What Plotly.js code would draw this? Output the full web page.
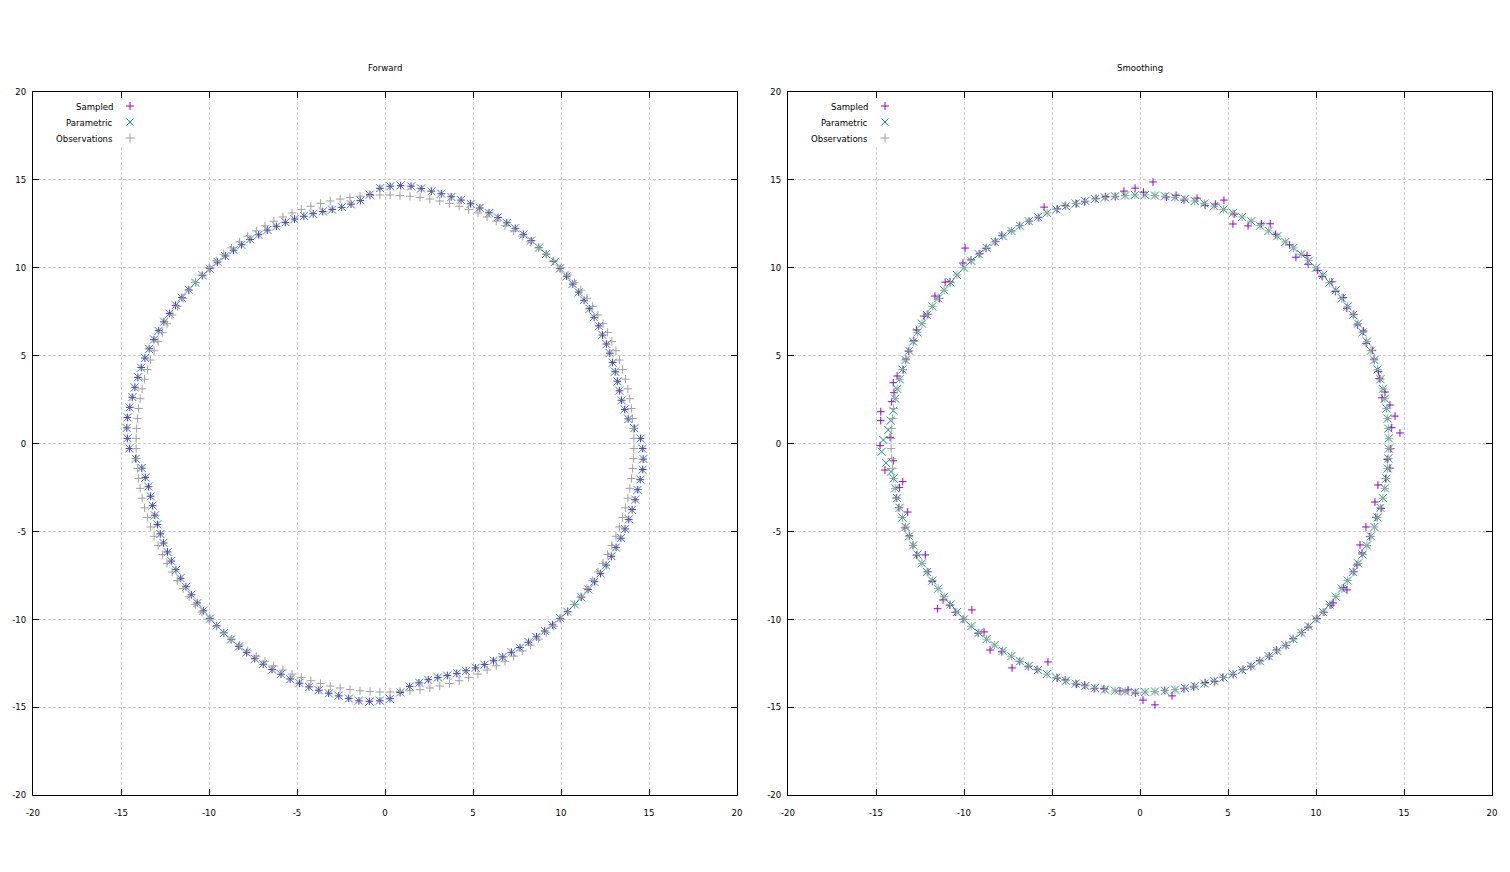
<!DOCTYPE html>
<html>
<head>
<meta charset="utf-8">
<script src="https://cdn.plot.ly/plotly-3.0.1.min.js"></script>
<style>html,body{margin:0;padding:0;background:#fff;}#chart{width:1510px;height:872px;}</style>
</head>
<body>
<div id="chart"></div>
<script>
// ---------------- data ----------------
const panelTitles = ['Forward', 'Smoothing'];
const seriesNames = ['Sampled', 'Parametric', 'Observations'];
const tickVals = [-20, -15, -10, -5, 0, 5, 10, 15, 20];
const tickText = ['-20', '-15', '-10', '-5', '0', '5', '10', '15', '20'];

// Observations (shared by both panels)
const obsX = [0.29,0.85,1.42,1.99,2.55,3.11,3.66,4.21,4.75,5.28,5.80,6.32,6.82,7.31,7.80,8.26,8.72,9.16,9.59,10.00,10.40,10.77,11.13,11.47,11.80,12.10,12.39,12.65,12.89,13.12,13.32,13.50,13.66,13.80,13.91,14.00,14.07,14.11,14.14,
  14.14,14.11,14.07,14.00,13.91,13.80,13.66,13.50,13.32,13.12,12.89,12.65,12.39,12.10,11.80,11.47,11.13,10.77,10.40,10.00,9.59,9.16,8.72,8.26,7.80,7.31,6.82,6.32,5.80,5.28,4.75,4.21,3.66,3.11,2.55,1.99,1.42,0.85,0.29,
  -0.29,-0.85,-1.42,-1.99,-2.55,-3.11,-3.66,-4.21,-4.75,-5.28,-5.80,-6.32,-6.82,-7.31,-7.80,-8.26,-8.72,-9.16,-9.59,-10.00,-10.40,-10.77,-11.13,-11.47,-11.80,-12.10,-12.39,-12.65,-12.89,-13.12,-13.32,-13.50,-13.66,-13.80,-13.91,-14.00,-14.07,-14.11,-14.14,
  -14.14,-14.11,-14.07,-14.00,-13.91,-13.80,-13.66,-13.50,-13.32,-13.12,-12.89,-12.65,-12.39,-12.10,-11.80,-11.47,-11.13,-10.77,-10.40,-10.00,-9.59,-9.16,-8.72,-8.26,-7.80,-7.31,-6.82,-6.32,-5.80,-5.28,-4.75,-4.21,-3.66,-3.11,-2.55,-1.99,-1.42,-0.85,-0.29];
const obsY = [14.14,14.11,14.07,14.00,13.91,13.80,13.66,13.50,13.32,13.12,12.89,12.65,12.39,12.10,11.80,11.47,11.13,10.77,10.40,10.00,9.59,9.16,8.72,8.26,7.80,7.31,6.82,6.32,5.80,5.28,4.75,4.21,3.66,3.11,2.55,1.99,1.42,0.85,0.29,
  -0.29,-0.85,-1.42,-1.99,-2.55,-3.11,-3.66,-4.21,-4.75,-5.28,-5.80,-6.32,-6.82,-7.31,-7.80,-8.26,-8.72,-9.16,-9.59,-10.00,-10.40,-10.77,-11.13,-11.47,-11.80,-12.10,-12.39,-12.65,-12.89,-13.12,-13.32,-13.50,-13.66,-13.80,-13.91,-14.00,-14.07,-14.11,-14.14,
  -14.14,-14.11,-14.07,-14.00,-13.91,-13.80,-13.66,-13.50,-13.32,-13.12,-12.89,-12.65,-12.39,-12.10,-11.80,-11.47,-11.13,-10.77,-10.40,-10.00,-9.59,-9.16,-8.72,-8.26,-7.80,-7.31,-6.82,-6.32,-5.80,-5.28,-4.75,-4.21,-3.66,-3.11,-2.55,-1.99,-1.42,-0.85,-0.29,
  0.29,0.85,1.42,1.99,2.55,3.11,3.66,4.21,4.75,5.28,5.80,6.32,6.82,7.31,7.80,8.26,8.72,9.16,9.59,10.00,10.40,10.77,11.13,11.47,11.80,12.10,12.39,12.65,12.89,13.12,13.32,13.50,13.66,13.80,13.91,14.00,14.07,14.11,14.14];

// Forward panel: sampled
const fwdSampledX = [0.29,0.89,1.48,2.06,2.63,3.20,3.76,4.32,4.86,5.39,5.91,6.42,6.92,7.40,7.86,8.31,8.74,9.16,9.56,9.95,10.32,10.67,11.00,11.31,11.61,11.88,12.14,12.36,12.58,12.77,12.93,13.08,13.20,13.32,13.44,13.62,13.82,14.17,14.52,
  14.64,14.67,14.64,14.50,14.36,14.21,14.04,13.85,13.64,13.40,13.13,12.86,12.56,12.24,11.90,11.54,11.16,10.77,10.37,9.95,9.52,9.07,8.61,8.15,7.67,7.18,6.69,6.17,5.66,5.14,4.61,4.08,3.54,3.00,2.46,1.93,1.40,0.86,0.29,
  -0.29,-0.89,-1.48,-2.06,-2.63,-3.20,-3.76,-4.32,-4.86,-5.39,-5.91,-6.42,-6.92,-7.40,-7.86,-8.31,-8.74,-9.16,-9.56,-9.95,-10.32,-10.67,-11.00,-11.31,-11.61,-11.88,-12.14,-12.36,-12.58,-12.77,-12.93,-13.08,-13.20,-13.32,-13.44,-13.62,-13.82,-14.17,-14.52,
  -14.64,-14.67,-14.64,-14.50,-14.36,-14.21,-14.04,-13.85,-13.64,-13.40,-13.13,-12.86,-12.56,-12.24,-11.90,-11.54,-11.16,-10.77,-10.37,-9.95,-9.52,-9.07,-8.61,-8.15,-7.67,-7.18,-6.69,-6.17,-5.66,-5.14,-4.61,-4.08,-3.54,-3.00,-2.46,-1.93,-1.40,-0.86,-0.29];
const fwdSampledY = [14.64,14.67,14.64,14.50,14.36,14.21,14.04,13.85,13.64,13.40,13.13,12.86,12.56,12.24,11.90,11.54,11.16,10.77,10.37,9.95,9.52,9.07,8.61,8.15,7.67,7.18,6.69,6.17,5.66,5.14,4.61,4.08,3.54,3.00,2.46,1.93,1.40,0.86,0.29,
  -0.29,-0.89,-1.48,-2.06,-2.63,-3.20,-3.76,-4.32,-4.86,-5.39,-5.91,-6.42,-6.92,-7.40,-7.86,-8.31,-8.74,-9.16,-9.56,-9.95,-10.32,-10.67,-11.00,-11.31,-11.61,-11.88,-12.14,-12.36,-12.58,-12.77,-12.93,-13.08,-13.20,-13.32,-13.44,-13.62,-13.82,-14.17,-14.52,
  -14.64,-14.67,-14.64,-14.50,-14.36,-14.21,-14.04,-13.85,-13.64,-13.40,-13.13,-12.86,-12.56,-12.24,-11.90,-11.54,-11.16,-10.77,-10.37,-9.95,-9.52,-9.07,-8.61,-8.15,-7.67,-7.18,-6.69,-6.17,-5.66,-5.14,-4.61,-4.08,-3.54,-3.00,-2.46,-1.93,-1.40,-0.86,-0.29,
  0.29,0.89,1.48,2.06,2.63,3.20,3.76,4.32,4.86,5.39,5.91,6.42,6.92,7.40,7.86,8.31,8.74,9.16,9.56,9.95,10.32,10.67,11.00,11.31,11.61,11.88,12.14,12.36,12.58,12.77,12.93,13.08,13.20,13.32,13.44,13.62,13.82,14.17,14.52];

// Forward panel: parametric
const fwdParamX = [0.30,0.88,1.49,2.05,2.64,3.19,3.77,4.31,4.87,5.38,5.92,6.41,6.93,7.39,7.87,8.30,8.75,9.15,9.66,9.94,10.33,10.66,11.01,11.30,11.62,11.87,12.15,12.35,12.59,12.76,12.94,13.07,13.21,13.31,13.45,13.61,13.83,14.16,14.53,
  14.63,14.68,14.63,14.51,14.35,14.22,14.03,13.86,13.63,13.41,13.12,12.87,12.55,12.25,11.89,11.55,11.15,10.78,10.36,9.96,9.51,9.08,8.60,8.16,7.66,7.19,6.68,6.18,5.65,5.15,4.60,4.09,3.53,3.01,2.45,1.94,1.39,0.87,0.28,
  -0.30,-0.88,-1.49,-2.05,-2.64,-3.19,-3.77,-4.31,-4.87,-5.38,-5.92,-6.41,-6.93,-7.39,-7.87,-8.30,-8.75,-9.15,-9.57,-9.94,-10.33,-10.66,-11.01,-11.30,-11.62,-11.87,-12.15,-12.35,-12.59,-12.76,-12.94,-13.07,-13.21,-13.31,-13.45,-13.61,-13.83,-14.16,-14.53,
  -14.63,-14.68,-14.63,-14.51,-14.35,-14.22,-14.03,-13.86,-13.63,-13.41,-13.12,-12.87,-12.55,-12.25,-11.89,-11.55,-11.15,-10.78,-10.36,-9.96,-9.51,-9.08,-8.60,-8.16,-7.66,-7.19,-6.68,-6.18,-5.65,-5.15,-4.60,-4.09,-3.53,-3.01,-2.45,-1.94,-1.39,-0.87,-0.28];
const fwdParamY = [14.63,14.68,14.63,14.51,14.35,14.22,14.03,13.86,13.63,13.41,13.12,12.87,12.55,12.25,11.89,11.55,11.15,10.78,10.34,9.96,9.51,9.08,8.60,8.16,7.66,7.19,6.68,6.18,5.65,5.15,4.60,4.09,3.53,3.01,2.45,1.94,1.39,0.87,0.28,
  -0.30,-0.88,-1.49,-2.05,-2.64,-3.19,-3.77,-4.31,-4.87,-5.38,-5.92,-6.41,-6.93,-7.39,-7.87,-8.30,-8.75,-9.15,-9.57,-9.94,-10.33,-10.66,-11.01,-11.30,-11.62,-11.87,-12.15,-12.35,-12.59,-12.76,-12.94,-13.07,-13.21,-13.31,-13.45,-13.61,-13.83,-14.16,-14.53,
  -14.63,-14.68,-14.63,-14.51,-14.35,-14.22,-14.03,-13.86,-13.63,-13.41,-13.12,-12.87,-12.55,-12.25,-11.89,-11.55,-11.15,-10.78,-10.36,-9.96,-9.51,-9.08,-8.60,-8.16,-7.66,-7.19,-6.68,-6.18,-5.65,-5.15,-4.60,-4.09,-3.53,-3.01,-2.45,-1.94,-1.39,-0.87,-0.28,
  0.30,0.88,1.49,2.05,2.64,3.19,3.77,4.31,4.87,5.38,5.92,6.41,6.93,7.39,7.87,8.30,8.75,9.15,9.57,9.94,10.33,10.66,11.01,11.30,11.62,11.87,12.15,12.35,12.59,12.76,12.94,13.07,13.21,13.31,13.45,13.61,13.83,14.16,14.53];

// Smoothing panel: sampled
const smoSampledX = [0.20,0.74,1.50,2.05,2.50,3.24,3.70,4.30,4.77,5.35,5.28,6.14,6.90,7.40,7.70,8.50,8.86,9.49,9.55,10.10,10.35,10.90,11.10,11.55,11.75,12.15,12.35,12.70,12.85,13.20,13.30,13.55,13.60,13.92,13.75,14.20,14.49,14.30,14.77,
  14.25,14.05,14.20,13.95,13.52,13.35,13.70,13.40,12.84,13.05,12.50,12.61,12.33,12.15,11.76,11.55,10.97,10.85,10.45,10.05,9.55,9.20,8.70,8.30,7.75,7.35,6.80,6.30,5.85,5.30,4.70,4.25,3.70,3.05,2.50,1.82,1.40,0.85,0.17,
  -0.25,-0.68,-1.14,-2.05,-2.60,-3.15,-3.60,-4.25,-4.70,-5.23,-5.85,-6.35,-6.85,-7.27,-7.85,-8.52,-8.86,-9.20,-9.55,-10.05,-10.50,-10.80,-11.19,-11.50,-11.80,-12.05,-12.20,-12.70,-12.90,-13.10,-13.35,-13.20,-13.70,-13.85,-13.67,-13.48,-14.49,-14.02,-14.77,
  -14.20,-14.73,-14.73,-14.11,-13.98,-14.02,-13.80,-13.45,-13.30,-13.15,-12.85,-12.70,-12.27,-12.05,-11.65,-11.40,-11.07,-10.80,-10.06,-9.94,-9.60,-9.10,-8.75,-8.20,-7.85,-7.30,-6.85,-6.30,-5.75,-5.45,-4.70,-4.25,-3.60,-3.15,-2.50,-1.95,-1.40,-0.91,-0.28];
const smoSampledY = [14.30,14.88,14.02,14.12,13.85,13.96,13.55,13.62,13.85,13.05,12.49,12.38,12.50,12.50,11.90,11.30,10.60,10.70,10.20,9.85,9.50,9.20,8.65,8.30,7.70,7.35,6.75,6.40,5.70,5.30,4.80,4.10,3.70,2.93,2.60,2.19,1.56,0.90,0.60,
  -0.30,-0.90,-1.40,-2.00,-2.36,-3.33,-3.70,-4.20,-4.75,-5.30,-5.77,-6.23,-6.91,-7.30,-8.33,-8.20,-9.07,-9.20,-9.60,-9.95,-10.45,-10.75,-11.10,-11.50,-11.75,-12.10,-12.35,-12.70,-12.85,-13.15,-13.30,-13.55,-13.60,-13.85,-13.95,-14.36,-14.05,-14.87,-14.60,
  -14.20,-14.02,-14.08,-13.95,-13.95,-13.75,-13.70,-13.45,-13.35,-12.43,-12.85,-12.70,-12.40,-12.77,-11.85,-11.75,-10.72,-10.80,-9.47,-10.00,-9.60,-9.20,-8.90,-9.40,-7.85,-7.30,-6.34,-6.35,-5.80,-5.25,-4.80,-3.90,-3.65,-3.10,-2.51,-2.17,-1.51,-0.98,-0.12,
  0.35,1.30,1.81,2.38,2.89,3.46,3.84,4.20,4.80,5.25,5.85,6.46,7.25,7.35,8.39,8.25,9.18,9.20,10.27,11.12,10.45,10.80,11.10,11.50,11.85,12.10,12.40,12.65,12.85,13.45,13.35,13.55,13.65,13.75,13.95,14.05,14.05,14.36,14.53];

// Smoothing panel: parametric
const smoParamX = [0.29,0.85,1.42,1.99,2.55,3.11,3.66,4.21,4.75,5.28,5.80,6.32,6.82,7.31,7.80,8.26,8.72,9.16,9.59,10.00,10.40,10.77,11.13,11.47,11.80,12.10,12.39,12.65,12.89,13.12,13.32,13.50,13.66,13.80,13.91,14.00,14.07,14.11,14.14,
  14.14,14.11,14.07,14.00,13.91,13.80,13.66,13.50,13.32,13.12,12.89,12.65,12.39,12.10,11.80,11.47,11.13,10.77,10.40,10.00,9.59,9.16,8.72,8.26,7.80,7.31,6.82,6.32,5.80,5.28,4.75,4.21,3.66,3.11,2.55,1.99,1.42,0.85,0.29,
  -0.29,-0.85,-1.42,-1.99,-2.55,-3.11,-3.66,-4.21,-4.75,-5.28,-5.80,-6.32,-6.82,-7.31,-7.80,-8.26,-8.72,-9.16,-9.59,-10.00,-10.40,-10.77,-11.13,-11.47,-11.80,-12.10,-12.39,-12.65,-12.89,-13.12,-13.32,-13.50,-13.66,-13.80,-13.91,-14.00,-14.15,-14.43,-14.68,
  -14.58,-14.30,-14.17,-14.02,-13.91,-13.80,-13.66,-13.50,-13.32,-13.12,-12.89,-12.65,-12.39,-12.10,-11.80,-11.47,-11.13,-10.77,-10.40,-10.00,-9.59,-9.16,-8.72,-8.26,-7.80,-7.31,-6.82,-6.32,-5.80,-5.28,-4.75,-4.21,-3.66,-3.11,-2.55,-1.99,-1.42,-0.85,-0.29];
const smoParamY = [14.14,14.11,14.07,14.00,13.91,13.80,13.66,13.50,13.32,13.12,12.89,12.65,12.39,12.10,11.80,11.47,11.13,10.77,10.40,10.00,9.59,9.16,8.72,8.26,7.80,7.31,6.82,6.32,5.80,5.28,4.75,4.21,3.66,3.11,2.55,1.99,1.42,0.85,0.29,
  -0.29,-0.85,-1.42,-1.99,-2.55,-3.11,-3.66,-4.21,-4.75,-5.28,-5.80,-6.32,-6.82,-7.31,-7.80,-8.26,-8.72,-9.16,-9.59,-10.00,-10.40,-10.77,-11.13,-11.47,-11.80,-12.10,-12.39,-12.65,-12.89,-13.12,-13.32,-13.50,-13.66,-13.80,-13.91,-14.00,-14.07,-14.11,-14.14,
  -14.14,-14.11,-14.07,-14.00,-13.91,-13.80,-13.66,-13.50,-13.32,-13.12,-12.89,-12.65,-12.39,-12.10,-11.80,-11.47,-11.13,-10.77,-10.40,-10.00,-9.59,-9.16,-8.72,-8.26,-7.80,-7.31,-6.82,-6.32,-5.80,-5.28,-4.75,-4.21,-3.66,-3.11,-2.55,-1.99,-1.60,-1.10,-0.47,
  0.20,0.77,1.30,1.87,2.55,3.11,3.66,4.21,4.75,5.28,5.80,6.32,6.82,7.31,7.80,8.26,8.72,9.16,9.59,10.00,10.40,10.77,11.13,11.47,11.80,12.10,12.39,12.65,12.89,13.12,13.32,13.50,13.66,13.80,13.91,14.00,14.07,14.11,14.14];

// ---------------- styling ----------------
const W = 1510, H = 872;
const FONT = 'DejaVu Sans Condensed, DejaVu Sans, sans-serif';
const FS = 9.5;
const COL = {Sampled: '#9400d3', Parametric: '#009e73', Observations: '#a0a0a0'};
const px = v => v / W;
const py = v => 1 - v / H;

const panels = [
  {ax: 'x', ay: 'y', xs: fwdSampledX, ys: fwdSampledY, xp: fwdParamX, yp: fwdParamY, left: 33, right: 737},
  {ax: 'x2', ay: 'y2', xs: smoSampledX, ys: smoSampledY, xp: smoParamX, yp: smoParamY, left: 788, right: 1492}
];
const TOP = 92, BOTTOM = 795;

const traces = [];
panels.forEach(p => {
  traces.push({type: 'scatter', mode: 'markers', name: seriesNames[0], x: p.xs, y: p.ys, xaxis: p.ax, yaxis: p.ay,
    showlegend: false, hoverinfo: 'skip',
    marker: {symbol: 'cross-thin-open', size: 5.5, color: COL.Sampled, line: {color: COL.Sampled, width: 1}}});
  traces.push({type: 'scatter', mode: 'markers', name: seriesNames[1], x: p.xp, y: p.yp, xaxis: p.ax, yaxis: p.ay,
    showlegend: false, hoverinfo: 'skip',
    marker: {symbol: 'x-thin-open', size: 8, color: COL.Parametric, line: {color: COL.Parametric, width: 1}}});
  traces.push({type: 'scatter', mode: 'markers', name: seriesNames[2], x: obsX, y: obsY, xaxis: p.ax, yaxis: p.ay,
    showlegend: false, hoverinfo: 'skip',
    marker: {symbol: 'cross-thin-open', size: 6, color: COL.Observations, line: {color: COL.Observations, width: 1}}});
});

function axisBase(domain, anchor, isX) {
  return {
    domain: domain, anchor: anchor, range: [-20, 20], autorange: false,
    tickmode: 'array', tickvals: tickVals, ticktext: tickText,
    ticks: 'inside', ticklen: 6, tickwidth: 1, tickcolor: '#000',
    showline: true, linecolor: '#000', linewidth: 1, mirror: 'ticks',
    showgrid: true, gridcolor: '#cccccc', gridwidth: 1, griddash: '3px,2px',
    zeroline: false, fixedrange: true,
    ticklabelstandoff: isX ? 9 : 4,
    tickfont: {family: FONT, size: FS, color: '#000'}
  };
}

const layout = {
  width: W, height: H,
  margin: {l: 0, r: 0, t: 0, b: 0, pad: 0},
  paper_bgcolor: '#fff', plot_bgcolor: '#fff',
  showlegend: false,
  xaxis: axisBase([px(33), px(737)], 'y', true),
  yaxis: axisBase([py(BOTTOM), py(TOP)], 'x', false),
  xaxis2: axisBase([px(788), px(1492)], 'y2', true),
  yaxis2: axisBase([py(BOTTOM), py(TOP)], 'x2', false),
  annotations: [],
  shapes: []
};

panels.forEach((p, i) => {
  layout.annotations.push({xref: 'paper', yref: 'paper', x: px((p.left + p.right) / 2), y: py(68),
    text: panelTitles[i], showarrow: false, xanchor: 'center', yanchor: 'middle',
    font: {family: FONT, size: FS, color: '#000'}});
  // opaque key box
  layout.shapes.push({type: 'rect', xref: 'paper', yref: 'paper', layer: 'above',
    x0: px(p.left + 4), x1: px(p.left + 108), y0: py(99), y1: py(146),
    fillcolor: '#fff', line: {width: 0}});
  const rows = [106, 122, 138];
  seriesNames.forEach((nm, k) => {
    const yc = rows[k];
    layout.annotations.push({xref: 'paper', yref: 'paper', x: px(p.left + 82), y: py(yc),
      text: nm, showarrow: false, xanchor: 'right', yanchor: 'middle',
      font: {family: FONT, size: FS, color: '#000'}});
    const xc = p.left + 97;
    const c = COL[nm];
    if (nm === 'Parametric') {
      layout.shapes.push({type: 'line', xref: 'paper', yref: 'paper', layer: 'above',
        x0: px(xc - 3.5), y0: py(yc - 3.5), x1: px(xc + 3.5), y1: py(yc + 3.5), line: {color: c, width: 1}});
      layout.shapes.push({type: 'line', xref: 'paper', yref: 'paper', layer: 'above',
        x0: px(xc - 3.5), y0: py(yc + 3.5), x1: px(xc + 3.5), y1: py(yc - 3.5), line: {color: c, width: 1}});
    } else {
      const h = nm === 'Observations' ? 4.5 : 4;
      layout.shapes.push({type: 'line', xref: 'paper', yref: 'paper', layer: 'above',
        x0: px(xc - h), y0: py(yc), x1: px(xc + h), y1: py(yc), line: {color: c, width: 1}});
      layout.shapes.push({type: 'line', xref: 'paper', yref: 'paper', layer: 'above',
        x0: px(xc), y0: py(yc - h), x1: px(xc), y1: py(yc + h), line: {color: c, width: 1}});
    }
  });
});

Plotly.newPlot('chart', traces, layout, {staticPlot: true, displayModeBar: false});
</script>
</body>
</html>
